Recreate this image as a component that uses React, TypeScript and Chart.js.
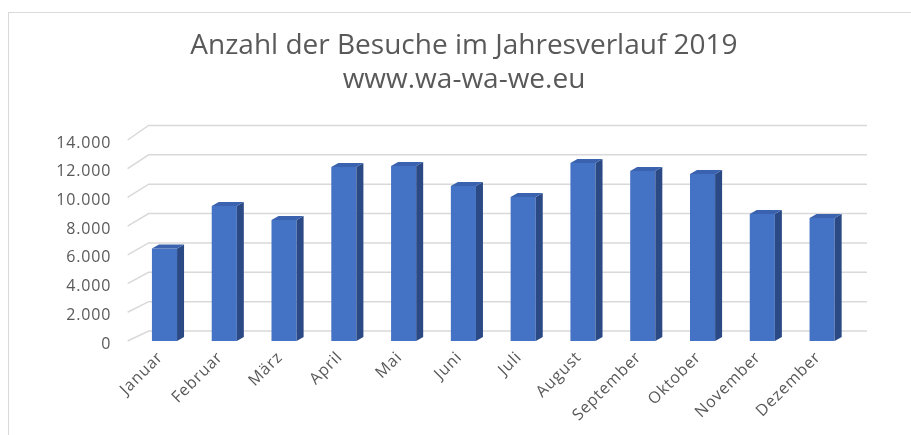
import React, { useEffect, useRef } from "react";
import { Chart, registerables } from "chart.js";

Chart.register(...registerables);

const months = [
  "Januar", "Februar", "März", "April", "Mai", "Juni",
  "Juli", "August", "September", "Oktober", "November", "Dezember",
];
const visits = [6450, 9400, 8430, 12120, 12190, 10790, 10030, 12400, 11840, 11630, 8840, 8570];
const titleLines = ["Anzahl der Besuche im Jahresverlauf 2019", "www.wa-wa-we.eu"];
const yMax = 14000;
const yStep = 2000;

const FRONT = "#4472C4";
const SIDE = "#2B4A85";
const TOP = "#3A62AE";
const GRID = "#D9D9D9";
const TEXT = "#595959";
const FONT = "'Open Sans', 'Liberation Sans', sans-serif";

const framePlugin = {
  id: "frame",
  beforeDraw(chart: any) {
    const ctx = chart.ctx;
    ctx.save();
    ctx.fillStyle = "#ffffff";
    ctx.fillRect(0, 0, chart.width, chart.height);
    ctx.strokeStyle = GRID;
    ctx.lineWidth = 1;
    ctx.strokeRect(8.5, 12.5, chart.width + 20, chart.height + 20);
    ctx.restore();
    (ctx as any).letterSpacing = "0.8px";
  },
  afterDraw(chart: any) {
    const ctx = chart.ctx;
    (ctx as any).letterSpacing = "0px";
    ctx.save();
    ctx.fillStyle = TEXT;
    ctx.font = `normal 28px ${FONT}`;
    ctx.textAlign = "center";
    ctx.textBaseline = "alphabetic";
    ctx.fillText(titleLines[0], 464, 54);
    ctx.fillText(titleLines[1], 464, 88);
    ctx.restore();
  },
};

const wallPlugin = {
  id: "wall",
  beforeDatasetsDraw(chart: any) {
    const ctx = chart.ctx;
    const ys = chart.scales.y;
    const area = chart.chartArea;
    const base = ys.getPixelForValue(0);
    const top = ys.getPixelForValue(yMax);
    ctx.save();
    ctx.strokeStyle = GRID;
    ctx.lineWidth = 1.5;
    ys.ticks.forEach((t: any) => {
      const p = ys.getPixelForValue(t.value);
      const frac = (base - p) / (base - top);
      const off = 10 + 4.5 * frac;
      ctx.beginPath();
      ctx.moveTo(area.left - 7, p);
      ctx.lineTo(area.left + 14, p - off);
      ctx.lineTo(area.right + 15, p - off);
      ctx.stroke();
    });
    ctx.restore();
  },
};

const bar3dPlugin = {
  id: "bar3d",
  afterDatasetsDraw(chart: any) {
    const ctx = chart.ctx;
    const meta = chart.getDatasetMeta(0);
    const dx = 7;
    const dy = 4;
    ctx.save();
    meta.data.forEach((bar: any) => {
      const { x, y, base, width } = bar.getProps(["x", "y", "base", "width"], true);
      const l = x - width / 2;
      const r = x + width / 2;
      ctx.fillStyle = SIDE;
      ctx.beginPath();
      ctx.moveTo(r, y);
      ctx.lineTo(r + dx, y - dy);
      ctx.lineTo(r + dx, base - dy);
      ctx.lineTo(r, base);
      ctx.closePath();
      ctx.fill();
      ctx.fillStyle = TOP;
      ctx.beginPath();
      ctx.moveTo(l, y);
      ctx.lineTo(l + dx, y - dy);
      ctx.lineTo(r + dx, y - dy);
      ctx.lineTo(r, y);
      ctx.closePath();
      ctx.fill();
    });
    ctx.restore();
  },
};

export default function App() {
  const ref = useRef<HTMLCanvasElement | null>(null);
  useEffect(() => {
    if (!ref.current) return;
    const chart = new Chart(ref.current, {
      type: "bar",
      data: {
        labels: months,
        datasets: [
          {
            data: visits,
            backgroundColor: FRONT,
            borderWidth: 0,
            categoryPercentage: 1,
            barPercentage: 0.42,
          },
        ],
      },
      options: {
        responsive: false,
        animation: false,
        layout: { padding: { left: 8, right: 59, top: 140, bottom: 0 } },
        plugins: {
          legend: { display: false },
          tooltip: { enabled: false },
          title: { display: false },
        },
        scales: {
          x: {
            grid: { display: false, drawTicks: false },
            border: { display: false },
            ticks: {
              color: TEXT,
              font: { family: FONT, size: 16 },
              minRotation: 45,
              maxRotation: 45,
              padding: 7,
              labelOffset: -4,
              autoSkip: false,
            },
            afterFit(scale: any) {
              scale.height = 94;
            },
          },
          y: {
            min: 0,
            max: yMax,
            grid: { display: false, drawTicks: false },
            border: { display: false },
            ticks: {
              stepSize: yStep,
              color: TEXT,
              font: { family: FONT, size: 16 },
              padding: 23.5,
              labelOffset: 3,
              callback: (v: any) => Number(v).toLocaleString("de-DE"),
            },
            afterFit(scale: any) {
              scale.width = 126.6;
            },
          },
        },
      },
      plugins: [framePlugin, wallPlugin, bar3dPlugin],
    });
    return () => chart.destroy();
  }, []);
  return (
    <canvas
      ref={ref}
      width={911}
      height={435}
      style={{ position: "fixed", left: 0, top: 0, width: 911, height: 435 }}
    />
  );
}
